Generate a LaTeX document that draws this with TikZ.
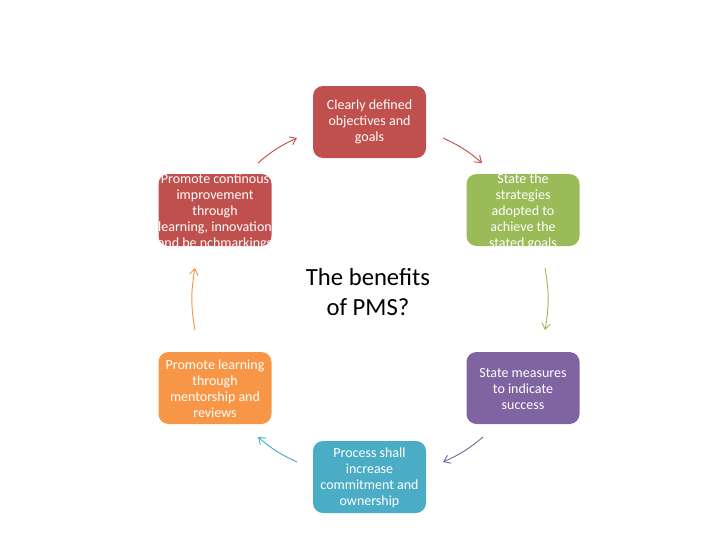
\documentclass[tikz,border=0pt]{standalone}
\usepackage{fontspec}
\setmainfont{Carlito}
\usepackage{tikz}
\definecolor{pmsred}{RGB}{192,80,77}
\definecolor{pmsgreen}{RGB}{155,187,89}
\definecolor{pmspurple}{RGB}{128,100,162}
\definecolor{pmsteal}{RGB}{75,172,198}
\definecolor{pmsorange}{RGB}{247,150,70}
\usetikzlibrary{arrows.meta}

\begin{document}
\begin{tikzpicture}[x=0.75pt, y=-0.75pt, >={Straight Barb[length=4.5pt, width=6.5pt]},   %Pixelraster, y nach unten
					kasten/.style={fill=#1, rounded corners=7.5pt, minimum width=84.75pt, minimum height=54pt, inner sep=0pt},
					kastentext/.style={text=white, align=center, inner sep=0pt, font=\fontsize{10.5}{12}\selectfont},
					pfeil/.style={->, draw=#1, line width=0.7pt}]
					\useasboundingbox (0,0) rectangle (728,546);
					\node[kasten=pmsred] (top) at (369.5,122) {};
					\node[kasten=pmsgreen] (rtop) at (523,210) {};
					\node[kasten=pmspurple] (rbot) at (523,388) {};
					\node[kasten=pmsteal] (bot) at (369.5,477) {};
					\node[kasten=pmsorange] (lbot) at (215,388) {};
					\node[kasten=pmsred] (ltop) at (215,210) {};
					\node[kastentext] (toptext) at (369.5,122) {Clearly defined\\objectives and\\goals};
					\node[kastentext] (rtoptext) at (523,211.5) {State the\\strategies\\adopted to\\achieve the\\stated goals};
					\node[kastentext] (rbottext) at (523,389) {State measures\\to indicate\\success};
					\node[kastentext] (bottext) at (369.5,477.5) {Process shall\\increase\\commitment and\\ownership};
					\node[kastentext] (lbottext) at (215,388.5) {Promote learning\\through\\mentorship and\\reviews};
					\node[kastentext] (ltoptext) at (215,211.5) {Promote continous\\improvement\\through\\learning, innovation\\and be nchmarkings};
					\node[align=center, font=\fontsize{18.5}{22.5}\selectfont] (mitte) at (368,292) {The benefits\\of PMS?};
					% Pfeilenden auf dem Kreis
					\coordinate (a1) at (258,163); \coordinate (b1) at (297,138);
					\coordinate (a2) at (443,138); \coordinate (b2) at (482,163);
					\coordinate (a3) at (545,268); \coordinate (b3) at (545,330);
					\coordinate (a4) at (483,437); \coordinate (b4) at (443,462);
					\coordinate (a5) at (297,462); \coordinate (b5) at (258,437);
					\coordinate (a6) at (195,330); \coordinate (b6) at (195,268);
					\draw[pfeil=pmsred] (a1) to[bend left=8] (b1);
					\draw[pfeil=pmsred] (a2) to[bend left=8] (b2);
					\draw[pfeil=pmsgreen] (a3) to[bend left=10] (b3);
					\draw[pfeil=pmspurple] (a4) to[bend left=8] (b4);
					\draw[pfeil=pmsteal] (a5) to[bend left=8] (b5);
					\draw[pfeil=pmsorange] (a6) to[bend left=10] (b6);
				\end{tikzpicture}
\end{document}
